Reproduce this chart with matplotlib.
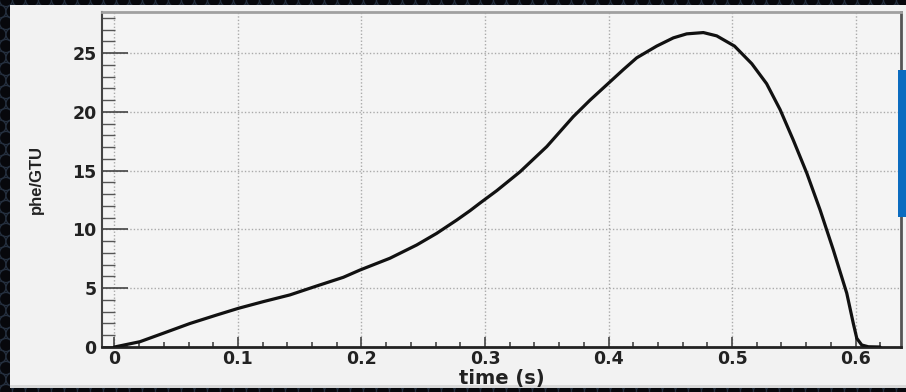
import numpy as np
import matplotlib
matplotlib.use("Agg")
import matplotlib.pyplot as plt
from matplotlib.patches import Rectangle, Circle
from matplotlib.ticker import MultipleLocator

# Light-curve samples: time (s) and photoelectrons per GTU
time_s = [0.0000, 0.0206, 0.0395, 0.0611, 0.0827, 0.1003, 0.1205, 0.1420,
          0.1637, 0.1853, 0.1988, 0.2230, 0.2447, 0.2609, 0.2771, 0.2879,
          0.2960, 0.3095, 0.3283, 0.3500, 0.3715, 0.3850, 0.3985, 0.4120,
          0.4228, 0.4390, 0.4525, 0.4633, 0.4768, 0.4876, 0.5020, 0.5160,
          0.5280, 0.5389, 0.5496, 0.5605, 0.5713, 0.5820, 0.5929, 0.5982,
          0.6010, 0.6050, 0.6104, 0.6198]
phe_gtu = [0.00, 0.45, 1.17, 2.00, 2.72, 3.29, 3.86, 4.43,
           5.19, 5.93, 6.55, 7.55, 8.68, 9.67, 10.80, 11.60,
           12.25, 13.30, 14.90, 17.05, 19.60, 21.00, 22.30, 23.60,
           24.60, 25.60, 26.30, 26.64, 26.75, 26.47, 25.60, 24.10,
           22.40, 20.20, 17.60, 14.80, 11.66, 8.26, 4.57, 2.00,
           0.74, 0.17, 0.02, 0.00]

x_ticks = [0, 0.1, 0.2, 0.3, 0.4, 0.5, 0.6]
x_tick_labels = ["0", "0.1", "0.2", "0.3", "0.4", "0.5", "0.6"]
y_ticks = [0, 5, 10, 15, 20, 25]
y_tick_labels = ["0", "5", "10", "15", "20", "25"]

W, H = 906, 392
fig = plt.figure(figsize=(W / 100, H / 100), dpi=100)
fig.patch.set_facecolor("#0b0d13")

# Patterned dark backdrop
bg = fig.add_axes([0, 0, 1, 1])
bg.set_xlim(0, W)
bg.set_ylim(H, 0)
bg.axis("off")
r = 6.5
for j, yy in enumerate(np.arange(0, H + 14, 11.5)):
    off = 0 if j % 2 == 0 else 6.5
    for xx in np.arange(-7, W + 14, 13):
        bg.add_patch(Circle((xx + off, yy), r, facecolor="#07080c",
                            edgecolor="#25303f", lw=0.9))

# Light panel
bg.add_patch(Rectangle((10, 5), W - 10, 382, facecolor="#f2f2f2",
                       edgecolor="none", zorder=5))
bg.add_patch(Rectangle((10, 385), W - 10, 2.5, facecolor="#d8d8d8",
                       edgecolor="none", zorder=6))

ax = fig.add_axes([102 / W, 1 - 347 / H, (901 - 102) / W, (347 - 12) / H])
ax.set_facecolor("#f4f4f4")
ax.plot(time_s, phe_gtu, color="#111111", lw=2.3, solid_joinstyle="round",
        solid_capstyle="round", zorder=3)

ax.set_xlim(-0.0101, 0.6368)
ax.set_ylim(0, 28.5)

ax.set_xticks(x_ticks)
ax.set_xticklabels(x_tick_labels)
ax.set_yticks(y_ticks)
ax.set_yticklabels(y_tick_labels)
ax.xaxis.set_minor_locator(MultipleLocator(0.02))
ax.yaxis.set_minor_locator(MultipleLocator(1))

ax.grid(True, which="major", color="#aaaaaa", lw=1.0,
        linestyle=(0, (1, 1.5)), zorder=1)

for lab in ax.get_xticklabels() + ax.get_yticklabels():
    lab.set_fontfamily("DejaVu Sans")
    lab.set_fontweight("bold")
    lab.set_fontsize(12.5)
    lab.set_color("#222222")

ax.tick_params(axis="x", which="major", direction="in", length=7, width=1.2,
               color="#444444", pad=2, top=False)
ax.tick_params(axis="x", which="minor", direction="in", length=3.5, width=1.2,
               color="#444444", top=False)
ax.tick_params(axis="y", which="major", direction="in", length=19, width=1.2,
               color="#444444", pad=4, right=False)
ax.tick_params(axis="y", which="minor", direction="in", length=9.5, width=1.0,
               color="#555555", right=False)

ax.spines["bottom"].set_color("#222222")
ax.spines["bottom"].set_linewidth(2.0)
ax.spines["left"].set_color("#444444")
ax.spines["left"].set_linewidth(1.5)
ax.spines["top"].set_color("#a0a0a0")
ax.spines["top"].set_linewidth(2.0)
ax.spines["right"].set_color("#555555")
ax.spines["right"].set_linewidth(2.0)

ax.set_xlabel("time (s)", fontfamily="DejaVu Sans", fontweight="bold",
              fontsize=14, color="#222222", labelpad=1)
ax.set_ylabel("phe/GTU", fontfamily="Liberation Sans", fontweight="bold",
              fontsize=12, color="#222222", labelpad=20)

# Blue marker bar at the right edge
fig.add_artist(Rectangle((898 / W, 1 - 217 / H), 8 / W, 147 / H,
                         transform=fig.transFigure, facecolor="#0b6cc0",
                         edgecolor="none", zorder=10))

fig.savefig("out.png", dpi=100, facecolor=fig.get_facecolor())
